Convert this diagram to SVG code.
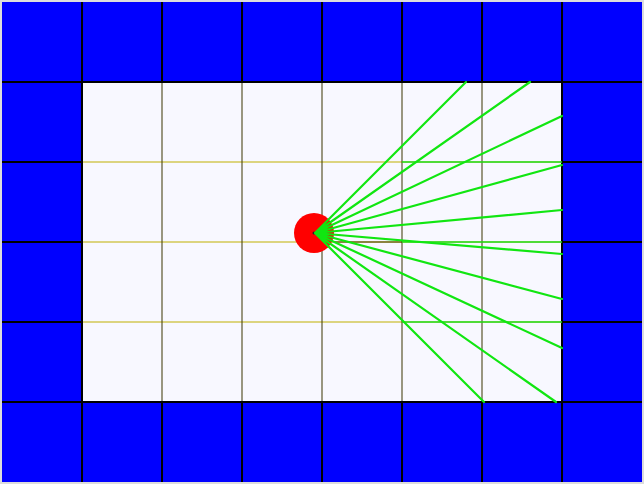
<svg xmlns="http://www.w3.org/2000/svg" width="644" height="484" viewBox="0 0 644 484">
<style>
path{fill:none}
.wall{fill:#0000ff}
.floor{fill:#f8f8ff}
.gl{stroke:#000;stroke-width:2}
.iv{stroke:#3a3400;stroke-width:1}
.ih{stroke:#c0b000;stroke-width:1}
.ray{stroke:#11e611;stroke-width:2.2;stroke-linecap:round}
.hit{stroke:#22dd22;stroke-width:1.5}
</style>
<rect x="0" y="0" width="644" height="484" fill="#dcdcdc"/>
<g id="walls">
<rect class="wall" x="2" y="2" width="640" height="480"/>
</g>
<g id="floor">
<rect class="floor" x="82" y="82" width="480" height="320"/>
</g>
<g id="grid">
<path class="ih" d="M82 162H562M82 242H562M82 322H562"/>
<path class="iv" d="M162 82V402M242 82V402M322 82V402M402 82V402M482 82V402M334 242H402"/>
<path class="gl" d="M82 2V82M162 2V82M242 2V82M322 2V82M402 2V82M482 2V82M562 2V82M82 402V482M162 402V482M242 402V482M322 402V482M402 402V482M482 402V482M562 402V482M2 82H82M2 162H82M2 242H82M2 322H82M562 82H642M562 162H642M562 242H642M562 322H642M82 82H562V402H82Z M2 402H642"/>
</g>
<g id="agent">
<circle cx="314" cy="233" r="20" fill="#ff0000"/>
<circle cx="314" cy="233" r="1.5" fill="#222"/>
</g>
<g id="connectors">
<path class="hit" d="M402 162H562M402 242H562M402 322H562"/>
<path class="ray" d="M315 233L466 82M315 233L530 82M315 233L562 116M315 233L562 165M315 233L562 210M315 233L562 254M315 233L562 299M315 233L562 348M315 233L556 402M315 233L484 402"/>
</g>
</svg>
